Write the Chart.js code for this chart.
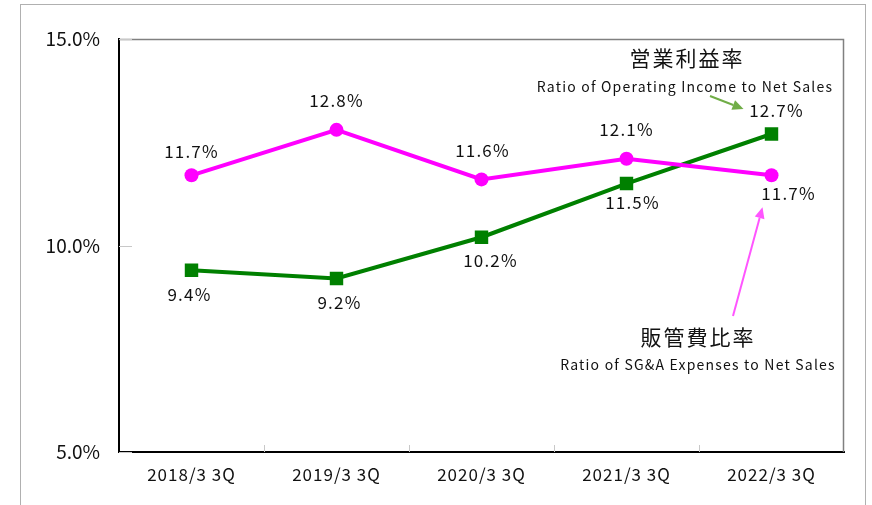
<!DOCTYPE html>
<html>
<head>
<meta charset="utf-8">
<script src="https://cdn.jsdelivr.net/npm/chart.js@4"></script>
<style>
  html, body { margin: 0; padding: 0; background: #fff; }
  #wrap { width: 872px; height: 505px; }
</style>
</head>
<body>
<div id="wrap"><canvas id="chart" width="872" height="505"></canvas></div>
<script>
const categories = ['2018/3 3Q', '2019/3 3Q', '2020/3 3Q', '2021/3 3Q', '2022/3 3Q'];
const sgaRatio = [11.7, 12.8, 11.6, 12.1, 11.7];
const opRatio = [9.4, 9.2, 10.2, 11.5, 12.7];
const yTicks = [5, 10, 15];

const FONT = '"Noto Sans CJK JP", "Noto Sans", sans-serif';

// value label offsets from their points, px
const sgaLabelDx = [0, 0, 1, 0, 17];
const sgaLabelDy = [-24, -29, -29, -29, 18];
const opLabelDx = [-2, 3, 9, 6, 5];
const opLabelDy = [24, 24, 23, 19, -23];

const decor = {
    id: 'decor',
    beforeDraw(chart) {
        const ctx = chart.ctx;
        ctx.letterSpacing = '0px';   // y axis labels
        ctx.save();
        ctx.strokeStyle = '#b0b0b0';
        ctx.lineWidth = 1;
        ctx.strokeRect(20.5, 4.5, 845, 600);
        ctx.restore();
    },
    afterDatasetsDraw(chart) {
        const ctx = chart.ctx;
        const { left, right, top, bottom } = chart.chartArea;
        const x = chart.scales.x, y = chart.scales.y;
        ctx.save();
        // top / right frame of plot area
        ctx.strokeStyle = '#808080';
        ctx.lineWidth = 1.5;
        ctx.beginPath();
        ctx.moveTo(left, top + 0.5);
        ctx.lineTo(right - 0.5, top + 0.5);
        ctx.lineTo(right - 0.5, bottom);
        ctx.stroke();
        // inner tick marks
        ctx.strokeStyle = '#c8c8c8';
        ctx.lineWidth = 1;
        ctx.beginPath();
        yTicks.forEach(v => {
            const py = Math.round(y.getPixelForValue(v)) + 0.5;
            ctx.moveTo(left, py);
            ctx.lineTo(left + 13, py);
        });
        for (let i = 1; i < categories.length; i++) {
            const px = Math.round((x.getPixelForValue(i - 1) + x.getPixelForValue(i)) / 2) + 0.5;
            ctx.moveTo(px, bottom);
            ctx.lineTo(px, bottom - 7);
        }
        ctx.stroke();

        // value labels
        ctx.fillStyle = '#111';
        ctx.letterSpacing = '1.2px';
        ctx.font = '17px ' + FONT;
        ctx.textAlign = 'center';
        ctx.textBaseline = 'middle';
        chart.getDatasetMeta(0).data.forEach((pt, i) => {
            ctx.fillText(sgaRatio[i].toFixed(1) + '%', pt.x + sgaLabelDx[i], pt.y + sgaLabelDy[i]);
        });
        chart.getDatasetMeta(1).data.forEach((pt, i) => {
            ctx.fillText(opRatio[i].toFixed(1) + '%', pt.x + opLabelDx[i], pt.y + opLabelDy[i]);
        });

        // annotations
        const lastOp = chart.getDatasetMeta(1).data[4];
        const lastSga = chart.getDatasetMeta(0).data[4];
        ctx.letterSpacing = '2px';
        ctx.font = '21px ' + FONT;
        ctx.fillText('営業利益率', 687, 58);
        ctx.fillText('販管費比率', 698, 337);
        ctx.letterSpacing = '1.2px';
        ctx.font = '14px ' + FONT;
        ctx.fillText('Ratio of Operating Income to Net Sales', 685, 87);
        ctx.fillText('Ratio of SG&A Expenses to Net Sales', 698, 365);
        ctx.letterSpacing = '0px';

        const arrow = (x1, y1, x2, y2, color) => {
            const ang = Math.atan2(y2 - y1, x2 - x1);
            const hl = 11, hw = 5;
            const bx = x2 - hl * Math.cos(ang), by = y2 - hl * Math.sin(ang);
            ctx.strokeStyle = color;
            ctx.fillStyle = color;
            ctx.lineWidth = 2;
            ctx.beginPath();
            ctx.moveTo(x1, y1);
            ctx.lineTo(bx, by);
            ctx.stroke();
            ctx.beginPath();
            ctx.moveTo(x2, y2);
            ctx.lineTo(bx + hw * Math.sin(ang), by - hw * Math.cos(ang));
            ctx.lineTo(bx - hw * Math.sin(ang), by + hw * Math.cos(ang));
            ctx.closePath();
            ctx.fill();
        };
        arrow(710, 96, lastOp.x - 28, lastOp.y - 25, '#70ad47');
        arrow(733, 316, lastSga.x - 9, lastSga.y + 32, '#ff55ff');
        ctx.restore();
        ctx.letterSpacing = '1px';   // x axis labels, drawn after datasets (ticks.z: 1)
    }
};

new Chart(document.getElementById('chart'), {
    type: 'line',
    data: {
        labels: categories,
        datasets: [{
                label: '販管費比率',
                data: sgaRatio,
                borderColor: '#ff00ff',
                backgroundColor: '#ff00ff',
                borderWidth: 4,
                pointStyle: 'circle',
                pointRadius: 7,
                pointBorderWidth: 0,
                tension: 0
            },
            {
                label: '営業利益率',
                data: opRatio,
                borderColor: '#008000',
                backgroundColor: '#008000',
                borderWidth: 4,
                pointStyle: 'rect',
                pointRadius: 9.5,
                pointBorderWidth: 0,
                tension: 0
            }
        ]
    },
    options: {
        responsive: false,
        animation: false,
        layout: { padding: { top: 39, right: 28, bottom: 0, left: 0 } },
        plugins: {
            legend: { display: false },
            tooltip: { enabled: false }
        },
        scales: {
            x: {
                offset: true,
                grid: { display: false, drawTicks: false },
                border: { color: '#000', width: 2 },
                ticks: { z: 1, color: '#111', font: { family: FONT, size: 17 }, padding: 12 },
                afterFit: s => { s.height = 53; }
            },
            y: {
                min: 5,
                max: 15,
                afterBuildTicks: s => { s.ticks = yTicks.map(v => ({ value: v })); },
                grid: { display: false, drawTicks: false },
                border: { color: '#000', width: 2 },
                ticks: {
                    color: '#111',
                    font: { family: FONT, size: 19 },
                    padding: 19,
                    callback: v => v.toFixed(1) + '%'
                },
                afterFit: s => { s.width = 119; }
            }
        }
    },
    plugins: [decor]
});
</script>
</body>
</html>
